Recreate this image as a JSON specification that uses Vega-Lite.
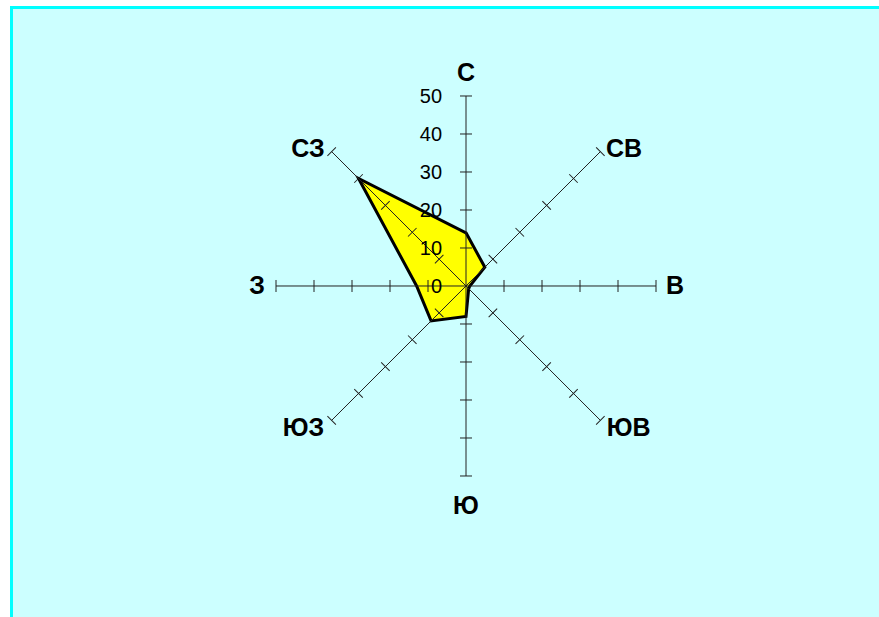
{
  "$schema": "https://vega.github.io/schema/vega-lite/v6.json",
  "width": 868,
  "height": 610,
  "autosize": {"type": "none"},
  "padding": {"left": 11, "top": 7, "right": 0, "bottom": 0},
  "background": "#FFFFFF",
  "config": {"view": {"fill": "#CCFFFF", "stroke": null}, "font": "Liberation Sans"},
  "datasets": {
    "wind": [
      {"dir": "С", "angle": 0, "value": 14},
      {"dir": "СВ", "angle": 45, "value": 7},
      {"dir": "В", "angle": 90, "value": 1},
      {"dir": "ЮВ", "angle": 135, "value": 1},
      {"dir": "Ю", "angle": 180, "value": 8},
      {"dir": "ЮЗ", "angle": 225, "value": 13},
      {"dir": "З", "angle": 270, "value": 13},
      {"dir": "СЗ", "angle": 315, "value": 40}
    ],
    "axes": [
      {"dir": "С", "angle": 0, "ticks": [0, 10, 20, 30, 40, 50]},
      {"dir": "СВ", "angle": 45, "ticks": [0, 10, 20, 30, 40, 50]},
      {"dir": "В", "angle": 90, "ticks": [0, 10, 20, 30, 40, 50]},
      {"dir": "ЮВ", "angle": 135, "ticks": [0, 10, 20, 30, 40, 50]},
      {"dir": "Ю", "angle": 180, "ticks": [0, 10, 20, 30, 40, 50]},
      {"dir": "ЮЗ", "angle": 225, "ticks": [0, 10, 20, 30, 40, 50]},
      {"dir": "З", "angle": 270, "ticks": [0, 10, 20, 30, 40, 50]},
      {"dir": "СЗ", "angle": 315, "ticks": [0, 10, 20, 30, 40, 50]}
    ]
  },
  "encoding": {
    "x": {
      "field": "x", "type": "quantitative",
      "scale": {"domain": [-119.74, 108.68], "nice": false, "zero": false},
      "axis": {"orient": "top", "title": null, "labels": false, "ticks": false, "grid": false, "domainColor": "#00FFFF", "domainWidth": 3, "domainCap": "square"}
    },
    "y": {
      "field": "y", "type": "quantitative",
      "scale": {"domain": [-87.11, 73.42], "nice": false, "zero": false},
      "axis": {"orient": "left", "title": null, "labels": false, "ticks": false, "grid": false, "domainColor": "#00FFFF", "domainWidth": 3, "domainCap": "square"}
    }
  },
  "layer": [
    {
      "data": {"name": "wind"},
      "transform": [
        {"calculate": "datum.value * sin(datum.angle * PI / 180)", "as": "x"},
        {"calculate": "datum.value * cos(datum.angle * PI / 180)", "as": "y"}
      ],
      "mark": {"type": "line", "interpolate": "linear-closed", "fill": "#FFFF00", "stroke": "#000000", "strokeWidth": 3, "strokeJoin": "miter"},
      "encoding": {"order": {"field": "angle", "type": "quantitative"}}
    },
    {
      "data": {"name": "axes"},
      "transform": [
        {"calculate": "50 * sin(datum.angle * PI / 180)", "as": "x"},
        {"calculate": "50 * cos(datum.angle * PI / 180)", "as": "y"}
      ],
      "mark": {"type": "rule", "stroke": "#222222", "strokeWidth": 1},
      "encoding": {"x2": {"datum": 0}, "y2": {"datum": 0}}
    },
    {
      "data": {"name": "axes"},
      "transform": [
        {"flatten": ["ticks"], "as": ["t"]},
        {"filter": "datum.t > 0"},
        {"calculate": "datum.t * sin(datum.angle * PI / 180)", "as": "x"},
        {"calculate": "datum.t * cos(datum.angle * PI / 180)", "as": "y"}
      ],
      "mark": {"type": "point", "shape": "stroke", "size": 144, "filled": false, "stroke": "#222222", "strokeWidth": 1, "opacity": 1},
      "encoding": {"angle": {"field": "angle", "type": "quantitative", "scale": null}}
    },
    {
      "data": {"name": "axes"},
      "transform": [
        {"flatten": ["ticks"], "as": ["t"]},
        {"filter": "datum.angle == 0"},
        {"calculate": "0", "as": "x"},
        {"calculate": "datum.t", "as": "y"}
      ],
      "mark": {"type": "text", "align": "right", "baseline": "middle", "dx": -24, "dy": 1, "fontSize": 20, "fill": "#000000"},
      "encoding": {"text": {"field": "t", "type": "quantitative"}}
    },
    {
      "data": {"name": "axes"},
      "transform": [
        {"calculate": "sin(datum.angle * PI / 180) * (datum.angle % 90 == 0 ? 55 : (datum.angle == 135 || datum.angle == 225 ? 60.5 : 58.8))", "as": "x"},
        {"calculate": "cos(datum.angle * PI / 180) * (datum.angle == 0 ? 56 : (datum.angle == 180 ? 58 : (datum.angle == 135 || datum.angle == 225 ? 53 : 50.8)))", "as": "y"}
      ],
      "mark": {"type": "text", "align": "center", "baseline": "middle", "fontSize": 25, "fontWeight": "bold", "fill": "#000000"},
      "encoding": {"text": {"field": "dir", "type": "nominal"}}
    }
  ]
}
